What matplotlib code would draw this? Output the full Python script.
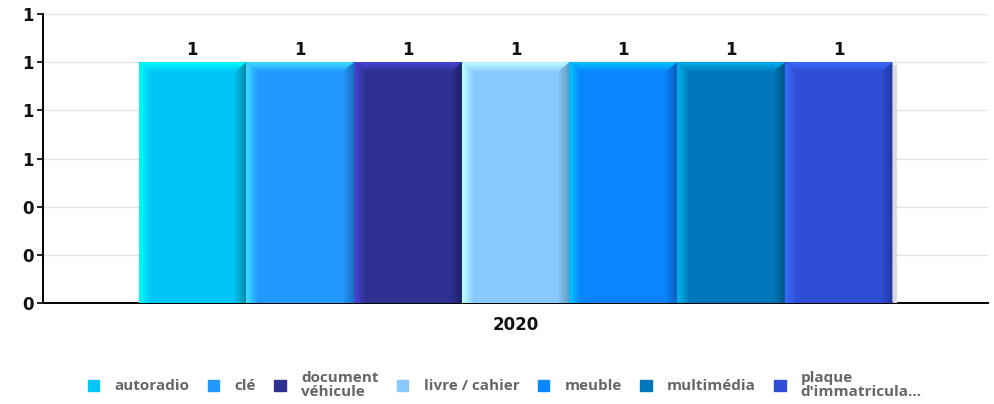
import matplotlib
matplotlib.use("Agg")
import matplotlib.pyplot as plt
import numpy as np
from matplotlib.patches import Polygon, Rectangle
from matplotlib.colors import to_rgb
from matplotlib.ticker import FormatStrFormatter

# ---- data ----
category = ["2020"]
series = ["autoradio", "clé", "document\nvéhicule", "livre / cahier", "meuble",
          "multimédia", "plaque\nd'immatricula..."]
values = [1, 1, 1, 1, 1, 1, 1]
main_colors = ["#00C5F5", "#2299FF", "#2E3192", "#88CAFF", "#0A84FF", "#0077BB", "#2E4FD5"]
light_colors = ["#00FFFF", "#40E0FF", "#4545D8", "#C0FFFF", "#00C8FF", "#00B4F0", "#3D6AFF"]
dark_colors = ["#008CA8", "#166FB8", "#1F2266", "#6A9CBF", "#075FBA", "#00577F", "#2238A0"]
y_ticks = [0, 0.2, 0.4, 0.6, 0.8, 1.0, 1.2]

W, H = 994, 404
fig = plt.figure(figsize=(W / 100, H / 100), dpi=100)
ax = fig.add_axes([43 / W, 1 - 303 / H, (988 - 43) / W, (303 - 14) / H])

n = len(series)
group_w = 754 / 945
bw = group_w / n
xs = np.arange(n) * bw - group_w / 2 + bw / 2

ax.set_xlim(-0.5, 0.5)
ax.set_ylim(0, 1.2)

px_x = 1.0 / 945          # data units per pixel (x)
px_y = 1.2 / 289          # data units per pixel (y)

bars = ax.bar(xs, values, width=bw, color=main_colors, zorder=3, linewidth=0)

def grad_img(ax, c1, c2, extent, clip, horizontal=True, z=4):
    c1 = np.array(to_rgb(c1)); c2 = np.array(to_rgb(c2))
    t = np.linspace(0, 1, 64)
    g = c1[None, :] * (1 - t[:, None]) + c2[None, :] * t[:, None]
    img = g[None, :, :] if horizontal else g[:, None, :]
    im = ax.imshow(img, extent=extent, aspect="auto", origin="lower" if horizontal else "upper",
                   zorder=z, interpolation="bilinear")
    im.set_clip_path(clip)
    return im

for i, (b, lc, mc, dc) in enumerate(zip(bars, light_colors, main_colors, dark_colors)):
    x0 = b.get_x(); w = b.get_width(); h = b.get_height()
    x1 = x0 + w
    sx = 12 * px_x
    sy = 10 * px_y
    # shadow
    ax.add_patch(Rectangle((x1, 0), 4 * px_x, h - 3 * px_y, color="#DADADA", zorder=2.8, lw=0))
    # left bevel
    lp = Polygon([(x0, 0), (x0 + sx, 0), (x0 + sx, h - sy), (x0, h)], closed=True,
                 transform=ax.transData, facecolor="none", edgecolor="none")
    ax.add_patch(lp)
    grad_img(ax, lc, mc, (x0, x0 + sx, 0, h), lp, horizontal=True)
    # right bevel
    rp = Polygon([(x1 - sx, 0), (x1, 0), (x1, h), (x1 - sx, h - sy)], closed=True,
                 transform=ax.transData, facecolor="none", edgecolor="none")
    ax.add_patch(rp)
    grad_img(ax, mc, dc, (x1 - sx, x1, 0, h), rp, horizontal=True)
    # top bevel
    tp = Polygon([(x0, h), (x1, h), (x1 - sx, h - sy), (x0 + sx, h - sy)], closed=True,
                 transform=ax.transData, facecolor="none", edgecolor="none")
    ax.add_patch(tp)
    grad_img(ax, lc, mc, (x0, x1, h - sy, h), tp, horizontal=False, z=5)
    # value label
    ax.text(x0 + w / 2, h + 3 * px_y, f"{values[i]}",
            ha="center", va="bottom", fontsize=12, fontweight="bold", color="#111111", zorder=6)

ax.set_xlim(-0.5, 0.5)
ax.set_ylim(0, 1.2)

ax.set_yticks(y_ticks)
ax.yaxis.set_major_formatter(FormatStrFormatter("%.0f"))
ax.set_xticks([0])
ax.set_xticklabels(category)
ax.grid(axis="y", color="#E4E4E4", linewidth=1, zorder=0)
ax.set_axisbelow(True)
for s in ["top", "right"]:
    ax.spines[s].set_visible(False)
ax.spines["left"].set_linewidth(1.4)
ax.spines["bottom"].set_linewidth(1.4)
ax.spines["left"].set_zorder(2)
ax.spines["bottom"].set_zorder(2)
ax.tick_params(axis="y", length=4, width=1.2, pad=3, labelsize=12)
ax.tick_params(axis="x", length=0, pad=9, labelsize=12)
for lab in ax.get_yticklabels() + ax.get_xticklabels():
    lab.set_fontweight("bold")
    lab.set_color("#111111")

handles = [Rectangle((0, 0), 1, 1, color=c) for c in main_colors]
leg = fig.legend(handles, series, loc="center", bbox_to_anchor=(0.508, 1 - 385 / H), ncol=n,
                 frameon=False, handlelength=0.75, handleheight=0.75, handletextpad=1.0,
                 columnspacing=1.2, prop={"family": "Open Sans", "weight": "bold", "size": 11})
for t in leg.get_texts():
    t.set_color("#666666")
    t.set_linespacing(0.95)

fig.savefig("out.png", dpi=100)
